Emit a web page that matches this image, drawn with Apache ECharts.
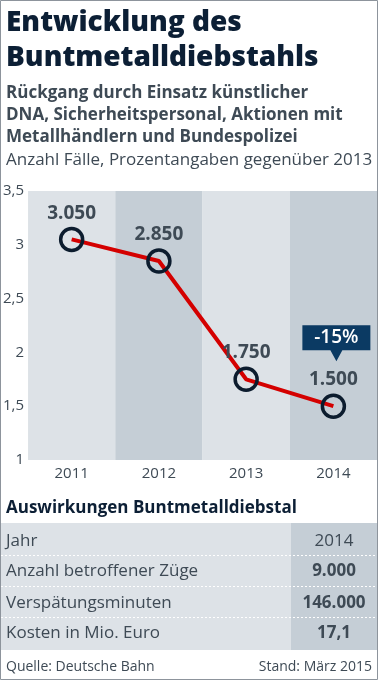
<!DOCTYPE html>
<html><head><meta charset="utf-8">
<script src="https://cdn.jsdelivr.net/npm/echarts@6/dist/echarts.min.js"></script>
<style>html,body{margin:0;padding:0;background:#fff}#c{width:378px;height:680px}</style>
</head><body><div id="c"></div>
<script>
const years = ["2011", "2012", "2013", "2014"];
const cases = [3.05, 2.85, 1.75, 1.5];
const caseLabels = ["3.050", "2.850", "1.750", "1.500"];
const changeLabel = "-15%";
const yTicks = [1, 1.5, 2, 2.5, 3, 3.5];
const tableLabels = ["Jahr", "Anzahl betroffener Züge", "Verspätungsminuten", "Kosten in Mio. Euro"];
const tableValues = ["2014", "9.000", "146.000", "17,1"];

const FONT = '"Open Sans", "Noto Sans", sans-serif';
const NAVY = '#0c1f35';
const GREY = '#3e4a55';
const chart = echarts.init(document.getElementById('c'));

const rowY = [541, 571, 603, 633];
const graphics = [
  {type:'rect', shape:{x:0.5,y:0.5,width:377,height:679}, style:{fill:null, stroke:'#8d949c', lineWidth:1}, z:100},
  {type:'text', x:6, y:23, style:{text:'Entwicklung des', font:'800 28px '+FONT, fill:NAVY, verticalAlign:'middle'}},
  {type:'text', x:6, y:58, style:{text:'Buntmetalldiebstahls', font:'800 28px '+FONT, fill:NAVY, verticalAlign:'middle'}},
  {type:'text', x:6, y:93, style:{text:'Rückgang durch Einsatz künstlicher', font:'bold 17px '+FONT, fill:GREY, verticalAlign:'middle'}},
  {type:'text', x:6, y:115, style:{text:'DNA, Sicherheitspersonal, Aktionen mit', font:'bold 17px '+FONT, fill:GREY, verticalAlign:'middle'}},
  {type:'text', x:6, y:137, style:{text:'Metallhändlern und Bundespolizei', font:'bold 17px '+FONT, fill:GREY, verticalAlign:'middle'}},
  {type:'text', x:6, y:160, style:{text:'Anzahl Fälle, Prozentangaben gegenüber 2013', font:'17px '+FONT, fill:GREY, verticalAlign:'middle'}},
  {type:'text', x:6, y:508, style:{text:'Auswirkungen Buntmetalldiebstal', font:'bold 17px '+FONT, fill:NAVY, verticalAlign:'middle'}},
  {type:'rect', shape:{x:1,y:523,width:290,height:127}, style:{fill:'#dde2e7'}},
  {type:'rect', shape:{x:291,y:523,width:86,height:127}, style:{fill:'#c5ced6'}},
  {type:'text', x:6, y:667, style:{text:'Quelle: Deutsche Bahn', font:'14px '+FONT, fill:GREY, verticalAlign:'middle'}},
  {type:'text', x:372, y:667, style:{text:'Stand: März 2015', font:'14px '+FONT, fill:GREY, verticalAlign:'middle', align:'right'}}
];
tableLabels.forEach((lab, i) => {
  if (i > 0) {
    const sy = (rowY[i-1] + rowY[i]) / 2 - 0.5;
    graphics.push({type:'line', shape:{x1:1,y1:sy,x2:377,y2:sy}, style:{stroke:'#ffffff', lineWidth:1, lineDash:[2,2]}});
  }
  graphics.push({type:'text', x:6, y:rowY[i], style:{text:lab, font:'17px '+FONT, fill:GREY, verticalAlign:'middle'}});
  graphics.push({type:'text', x:334, y:rowY[i], style:{text:tableValues[i], font:(i===0?'':'bold ')+'17px '+FONT, fill:GREY, verticalAlign:'middle', align:'center'}});
});

chart.setOption({
  animation:false,
  grid:{left:26, right:1, top:191, bottom:220},
  xAxis:{type:'category', data:years, boundaryGap:true,
    axisLine:{show:false}, axisTick:{show:false},
    axisLabel:{color:'#3e4a55', fontSize:15, fontFamily:FONT, margin:6},
    splitArea:{show:true, areaStyle:{color:['#dde2e7','#c5ced6']}}},
  yAxis:{type:'value', min:yTicks[0], max:yTicks[yTicks.length-1], interval:0.5,
    axisLine:{show:false}, axisTick:{show:false},
    axisLabel:{color:'#3e4a55', fontSize:15, fontFamily:FONT, margin:4,
      formatter:v => String(v).replace('.', ',')},
    splitLine:{show:true, lineStyle:{color:'#ffffff', type:[2,2], width:1}}},
  series:[{
    type:'line', data:cases, z:5,
    lineStyle:{color:'#d40000', width:4},
    symbol:'circle', symbolSize:22,
    itemStyle:{color:'rgba(0,0,0,0)', borderColor:'#0c1c2e', borderWidth:3.5},
    label:{show:true, position:'top', distance:4, color:GREY, fontSize:19, fontWeight:'bold', fontFamily:FONT,
      formatter:p => caseLabels[p.dataIndex]},
    markPoint:{
      symbol:'path://M0,0 L68,0 L68,25 L40,25 L34,36 L28,25 L0,25 Z',
      symbolSize:[68,36], symbolKeepAspect:false,
      data:[{coord:[years[3], cases[3]], symbolOffset:[3,-63]}],
      itemStyle:{color:'#0b3a63', borderWidth:0},
      label:{show:true, formatter:changeLabel, color:'#fff', fontSize:19, fontWeight:600, fontFamily:FONT, offset:[0,-6]}
    }
  }],
  graphic:graphics
});
</script></body></html>
